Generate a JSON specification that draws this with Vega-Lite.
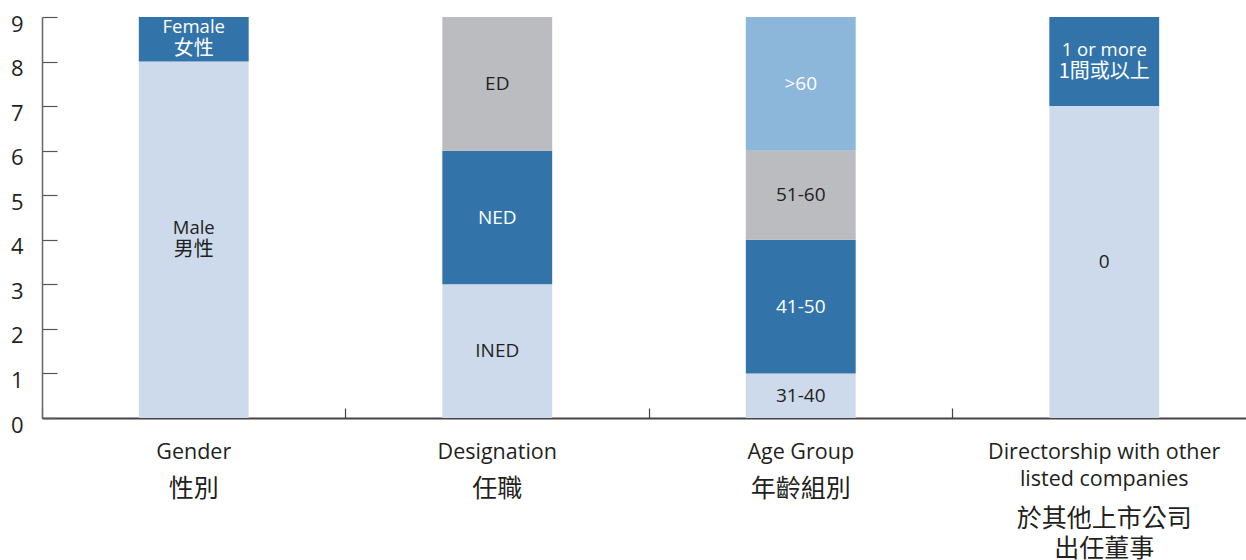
{
  "$schema": "https://vega.github.io/schema/vega-lite/v6.json",
  "autosize": "none",
  "padding": {"left": 42, "top": 17, "right": 0, "bottom": 142},
  "width": 1214,
  "height": 401,
  "background": "white",
  "config": {"view": {"stroke": null}, "axis": {"grid": false}},
  "data": {
    "values": [
      {"cat": "Gender", "en": "Male", "zh": "男性", "value": 8, "order": 1, "shade": "light"},
      {"cat": "Gender", "en": "Female", "zh": "女性", "value": 1, "order": 2, "shade": "dark"},
      {"cat": "Designation", "en": "INED", "zh": "", "value": 3, "order": 1, "shade": "light"},
      {"cat": "Designation", "en": "NED", "zh": "", "value": 3, "order": 2, "shade": "dark"},
      {"cat": "Designation", "en": "ED", "zh": "", "value": 3, "order": 3, "shade": "grey"},
      {"cat": "Age Group", "en": "31-40", "zh": "", "value": 1, "order": 1, "shade": "light"},
      {"cat": "Age Group", "en": "41-50", "zh": "", "value": 3, "order": 2, "shade": "dark"},
      {"cat": "Age Group", "en": "51-60", "zh": "", "value": 2, "order": 3, "shade": "grey"},
      {"cat": "Age Group", "en": ">60", "zh": "", "value": 3, "order": 4, "shade": "mid"},
      {"cat": "Directorship", "en": "0", "zh": "", "value": 7, "order": 1, "shade": "light"},
      {"cat": "Directorship", "en": "1 or more", "zh": "1間或以上", "value": 2, "order": 2, "shade": "dark"}
    ]
  },
  "transform": [
    {"stack": "value", "groupby": ["cat"], "sort": [{"field": "order"}], "as": ["y0", "y1"]}
  ],
  "layer": [
    {
      "mark": {"type": "bar", "width": {"band": 0.362}},
      "encoding": {
        "x": {
          "field": "cat", "type": "nominal",
          "sort": ["Gender", "Designation", "Age Group", "Directorship"],
          "scale": {"paddingInner": 0, "paddingOuter": 0},
          "axis": {
            "orient": "bottom", "title": null, "labels": false,
            "bandPosition": 0, "tickSize": -10, "tickColor": "#444444", "tickWidth": 1.2,
            "domainColor": "#444444", "domainWidth": 2
          }
        },
        "y": {
          "field": "y0", "type": "quantitative",
          "scale": {"domain": [0, 9], "nice": false},
          "axis": {
            "orient": "left", "title": null, "values": [0,1,2,3,4,5,6,7,8,9],
            "tickSize": -15, "tickColor": "#555555", "tickWidth": 1.2,
            "domainColor": "#666666", "domainWidth": 1.5,
            "labelFont": "Open Sans", "labelFontSize": 22, "labelColor": "#231f20",
            "labelPadding": 34, "labelOffset": 7
          }
        },
        "y2": {"field": "y1"},
        "color": {
          "field": "shade", "type": "nominal", "legend": null,
          "scale": {"domain": ["light", "dark", "grey", "mid"], "range": ["#cddaeb", "#3274a9", "#bbbcc0", "#8cb6da"]}
        }
      }
    },
    {
      "transform": [
        {"filter": "datum.zh == ''"},
        {"fold": ["y0", "y1"], "as": ["k", "v"]},
        {"aggregate": [{"op": "mean", "field": "v", "as": "mid"}], "groupby": ["cat", "en", "zh", "shade"]}
      ],
      "mark": {"type": "text", "font": "Open Sans", "fontSize": 19},
      "encoding": {
        "x": {
          "field": "cat", "type": "nominal",
          "sort": ["Gender", "Designation", "Age Group", "Directorship"],
          "axis": {
            "orient": "bottom", "title": null, "domain": false, "ticks": false,
            "labelAngle": 0, "labelLimit": 0, "labelAlign": "center",
            "labelFont": "Open Sans", "labelFontSize": 21.5, "labelColor": "#231f20",
            "labelPadding": 23, "labelBaseline": "top", "labelLineHeight": 27,
            "labelExpr": "datum.value == 'Directorship' ? ['Directorship with other', 'listed companies'] : datum.value"
          }
        },
        "y": {"field": "mid", "type": "quantitative", "axis": null},
        "text": {"field": "en"},
        "color": {
          "field": "shade", "type": "nominal", "legend": null,
          "scale": {"domain": ["light", "dark", "grey", "mid"], "range": ["#231f20", "#ffffff", "#231f20", "#ffffff"]}
        }
      }
    },
    {
      "transform": [
        {"filter": "datum.zh != ''"},
        {"fold": ["y0", "y1"], "as": ["k", "v"]},
        {"aggregate": [{"op": "mean", "field": "v", "as": "mid"}], "groupby": ["cat", "en", "zh", "shade"]}
      ],
      "mark": {"type": "text", "font": "Open Sans", "fontSize": 18.5, "dy": -12},
      "encoding": {
        "x": {
          "field": "cat", "type": "nominal",
          "sort": ["Gender", "Designation", "Age Group", "Directorship"],
          "axis": {
            "orient": "bottom", "title": null, "domain": false, "ticks": false,
            "labelAngle": 0, "labelLimit": 0, "labelAlign": "center",
            "labelFont": "Noto Sans CJK TC", "labelFontSize": 25, "labelColor": "#231f20",
            "labelPadding": 58, "labelBaseline": "top", "labelLineHeight": 30,
            "labelExpr": "datum.value == 'Gender' ? '性別' : datum.value == 'Designation' ? '任職' : datum.value == 'Age Group' ? '年齡組別' : ['', '於其他上市公司', '出任董事']"
          }
        },
        "y": {"field": "mid", "type": "quantitative", "axis": null},
        "text": {"field": "en"},
        "color": {
          "field": "shade", "type": "nominal", "legend": null,
          "scale": {"domain": ["light", "dark", "grey", "mid"], "range": ["#231f20", "#ffffff", "#231f20", "#ffffff"]}
        }
      }
    },
    {
      "transform": [
        {"filter": "datum.zh != ''"},
        {"fold": ["y0", "y1"], "as": ["k", "v"]},
        {"aggregate": [{"op": "mean", "field": "v", "as": "mid"}], "groupby": ["cat", "en", "zh", "shade"]}
      ],
      "mark": {"type": "text", "font": "Noto Sans CJK TC", "fontSize": 20, "dy": 10},
      "encoding": {
        "x": {
          "field": "cat", "type": "nominal",
          "sort": ["Gender", "Designation", "Age Group", "Directorship"],
          "axis": null
        },
        "y": {"field": "mid", "type": "quantitative", "axis": null},
        "text": {"field": "zh"},
        "color": {
          "field": "shade", "type": "nominal", "legend": null,
          "scale": {"domain": ["light", "dark", "grey", "mid"], "range": ["#231f20", "#ffffff", "#231f20", "#ffffff"]}
        }
      }
    }
  ],
  "resolve": {"axis": {"x": "independent", "y": "independent"}, "scale": {"color": "independent"}}
}
